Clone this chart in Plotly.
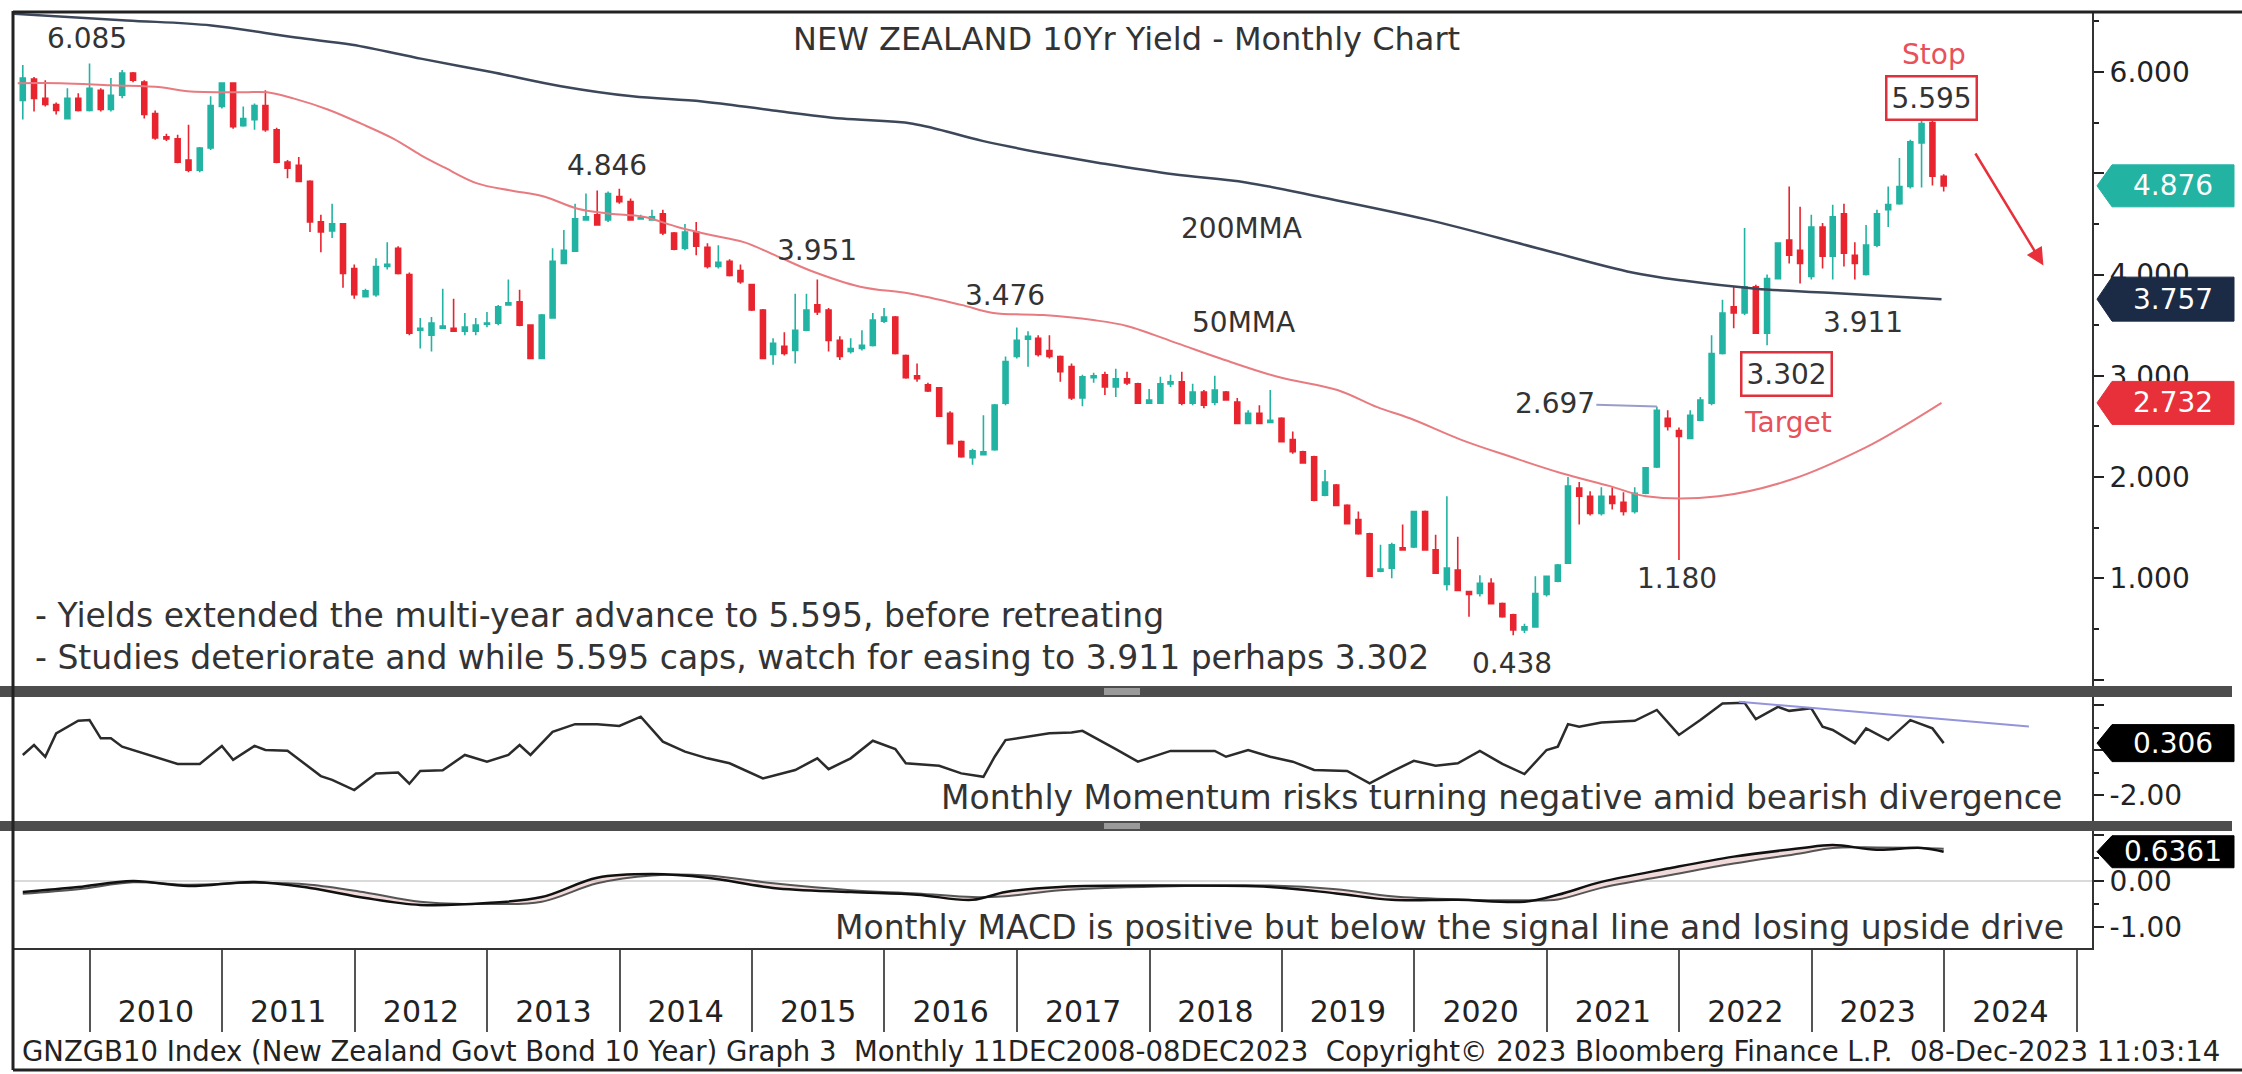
import pandas as pd
import plotly.graph_objects as go

# ---- monthly candles, Jun 2009 .. Dec 2023 ----
opens = [
    5.72, 5.93, 5.74, 5.68, 5.54, 5.74, 5.62,                          # 2009 Jun-Dec
    5.82, 5.63, 5.77, 5.99, 5.90, 5.59, 5.36, 5.34, 5.13, 5.03, 5.25, 5.66,  # 2010
    5.89, 5.47, 5.53, 5.67, 5.43, 5.11, 5.08, 4.92, 4.52, 4.43, 4.50, 4.06,  # 2011
    3.78, 3.80, 4.08, 4.26, 4.00, 3.45, 3.40, 3.47, 3.47, 3.44, 3.44, 3.51,  # 2012
    3.52, 3.70, 3.73, 3.50, 3.17, 3.57, 4.11, 4.23, 4.54, 4.59, 4.54, 4.77,  # 2013
    4.72, 4.55, 4.54, 4.60, 4.41, 4.26, 4.42, 4.27, 4.08, 4.13, 4.04, 3.90,  # 2014
    3.65, 3.21, 3.29, 3.25, 3.45, 3.70, 3.65, 3.35, 3.24, 3.27, 3.30, 3.54,  # 2015
    3.58, 3.20, 3.00, 2.91, 2.88, 2.63, 2.35, 2.19, 2.22, 2.27, 2.73, 3.19,  # 2016
    3.36, 3.37, 3.25, 3.19, 3.09, 2.78, 2.98, 3.01, 2.89, 2.97, 2.92, 2.73,  # 2017
    2.73, 2.92, 2.94, 2.73, 2.84, 2.74, 2.84, 2.74, 2.53, 2.63, 2.54, 2.58,  # 2018
    2.37, 2.25, 2.20, 1.82, 1.92, 1.72, 1.58, 1.44, 1.07, 1.10, 1.30, 1.31,  # 2019
    1.66, 1.28, 0.94, 1.08, 0.87, 0.85, 0.95, 0.75, 0.64, 0.49, 0.52, 0.84,  # 2020
    0.97, 1.15, 1.89, 1.81, 1.64, 1.81, 1.75, 1.66, 1.84, 2.10, 2.58, 2.46,  # 2021
    2.38, 2.56, 2.73, 3.22, 3.68, 3.62, 3.88, 3.42, 3.96, 4.34, 4.24, 3.98,  # 2022
    4.47, 4.18, 4.60, 4.19, 4.00, 4.29, 4.64, 4.70, 4.87, 5.30, 5.50, 4.97,  # 2023
]
highs = [
    6.07, 5.95, 5.92, 5.70, 5.84, 5.79, 6.085,
    5.84, 5.94, 6.02, 6.00, 5.92, 5.62, 5.39, 5.38, 5.48, 5.26, 5.76, 5.90,
    5.90, 5.66, 5.69, 5.82, 5.45, 5.13, 5.16, 4.93, 4.59, 4.70, 4.51, 4.10,
    3.86, 4.16, 4.32, 4.28, 4.02, 3.57, 3.58, 3.86, 3.76, 3.62, 3.57, 3.63,
    3.70, 3.95, 3.85, 3.51, 3.61, 4.26, 4.44, 4.70, 4.80, 4.83, 4.82, 4.846,
    4.75, 4.59, 4.64, 4.64, 4.42, 4.50, 4.52, 4.31, 4.29, 4.15, 4.10, 3.91,
    3.66, 3.37, 3.43, 3.81, 3.81, 3.951, 3.67, 3.39, 3.37, 3.45, 3.62, 3.67,
    3.59, 3.21, 3.12, 2.93, 2.89, 2.65, 2.36, 2.28, 2.61, 2.72, 3.19, 3.476,
    3.44, 3.40, 3.40, 3.20, 3.12, 3.01, 3.03, 3.04, 3.07, 3.04, 2.93, 2.87,
    2.99, 3.01, 3.04, 2.92, 2.86, 3.00, 2.85, 2.78, 2.66, 2.71, 2.86, 2.59,
    2.45, 2.26, 2.21, 2.07, 1.93, 1.73, 1.66, 1.45, 1.33, 1.35, 1.53, 1.66,
    1.67, 1.43, 1.81, 1.41, 0.87, 1.03, 1.00, 0.76, 0.65, 0.55, 1.02, 1.02,
    1.14, 2.00, 1.95, 1.86, 1.90, 1.90, 1.85, 1.90, 2.10, 2.697, 2.66, 2.49,
    2.66, 2.79, 3.40, 3.75, 3.88, 4.46, 3.90, 4.00, 4.32, 4.87, 4.67, 4.59,
    4.51, 4.69, 4.70, 4.32, 4.49, 4.64, 4.87, 5.15, 5.33, 5.595, 5.56, 4.99,
]
lows = [
    5.53, 5.61, 5.66, 5.58, 5.53, 5.61, 5.61,
    5.61, 5.61, 5.74, 5.90, 5.54, 5.33, 5.32, 5.10, 5.01, 5.01, 5.23, 5.64,
    5.44, 5.46, 5.43, 5.41, 5.10, 4.95, 4.92, 4.42, 4.22, 4.36, 3.87, 3.76,
    3.78, 3.78, 4.05, 4.00, 3.40, 3.27, 3.24, 3.47, 3.44, 3.40, 3.40, 3.48,
    3.50, 3.70, 3.49, 3.17, 3.17, 3.57, 4.11, 4.23, 4.54, 4.49, 4.52, 4.70,
    4.54, 4.54, 4.53, 4.39, 4.24, 4.24, 4.19, 4.06, 4.06, 3.98, 3.91, 3.64,
    3.17, 3.11, 3.20, 3.12, 3.44, 3.60, 3.24, 3.155, 3.22, 3.25, 3.29, 3.52,
    3.21, 2.97, 2.94, 2.84, 2.60, 2.33, 2.19, 2.12, 2.22, 2.26, 2.71, 3.17,
    3.09, 3.19, 3.17, 2.94, 2.76, 2.70, 2.93, 2.81, 2.79, 2.91, 2.72, 2.72,
    2.72, 2.89, 2.71, 2.71, 2.68, 2.71, 2.76, 2.53, 2.52, 2.53, 2.53, 2.35,
    2.23, 2.13, 1.76, 1.81, 1.72, 1.54, 1.43, 1.02, 1.06, 1.00, 1.28, 1.30,
    1.28, 1.05, 0.88, 0.88, 0.62, 0.82, 0.74, 0.61, 0.438, 0.46, 0.52, 0.82,
    0.96, 1.15, 1.53, 1.62, 1.62, 1.68, 1.62, 1.64, 1.83, 2.09, 2.46, 1.18,
    2.38, 2.55, 2.71, 3.21, 3.47, 3.60, 3.42, 3.302, 3.95, 4.11, 3.911, 3.95,
    4.06, 3.95, 4.08, 3.95, 3.99, 4.27, 4.47, 4.69, 4.85, 4.86, 4.88, 4.82,
]
closes = [
    5.94, 5.74, 5.68, 5.62, 5.74, 5.62, 5.84,
    5.63, 5.77, 5.99, 5.92, 5.58, 5.35, 5.34, 5.11, 5.03, 5.25, 5.67, 5.89,
    5.46, 5.54, 5.67, 5.43, 5.11, 5.05, 4.92, 4.52, 4.42, 4.50, 4.01, 3.80,
    3.84, 4.08, 4.10, 4.01, 3.42, 3.47, 3.52, 3.49, 3.44, 3.48, 3.50, 3.52,
    3.68, 3.72, 3.50, 3.17, 3.60, 4.13, 4.24, 4.55, 4.57, 4.49, 4.80, 4.72,
    4.54, 4.56, 4.57, 4.41, 4.25, 4.42, 4.28, 4.08, 4.12, 3.99, 3.93, 3.65,
    3.17, 3.32, 3.22, 3.45, 3.65, 3.63, 3.35, 3.19, 3.27, 3.30, 3.55, 3.58,
    3.22, 2.98, 2.97, 2.85, 2.60, 2.33, 2.20, 2.26, 2.25, 2.71, 3.14, 3.35,
    3.39, 3.21, 3.19, 3.04, 2.78, 2.99, 3.00, 2.89, 2.97, 2.93, 2.73, 2.76,
    2.92, 2.94, 2.73, 2.84, 2.71, 2.86, 2.76, 2.53, 2.63, 2.53, 2.56, 2.35,
    2.25, 2.14, 1.77, 1.95, 1.72, 1.54, 1.44, 1.02, 1.09, 1.33, 1.28, 1.66,
    1.28, 1.05, 1.10, 0.88, 0.84, 0.95, 0.75, 0.62, 0.49, 0.52, 0.85, 1.02,
    1.13, 1.91, 1.81, 1.64, 1.81, 1.74, 1.66, 1.84, 2.09, 2.66, 2.50, 2.40,
    2.61, 2.76, 3.22, 3.62, 3.62, 3.88, 3.42, 3.96, 4.31, 4.19, 4.11, 4.47,
    4.18, 4.57, 4.21, 4.11, 4.29, 4.60, 4.69, 4.87, 5.31, 5.49, 4.97, 4.876,
]
candle_dates = pd.date_range("2009-06-30", periods=len(closes), freq="ME")

# ---- moving averages ----
ma200_dates = ["2009-06-06", "2010-04-12", "2010-12-02", "2011-07-23", "2011-12-25",
               "2012-07-05", "2013-01-12", "2013-07-23", "2014-02-05", "2014-08-17",
               "2015-02-28", "2015-09-06", "2016-03-19", "2016-09-27", "2017-04-11",
               "2017-08-19", "2018-03-08", "2018-09-24", "2019-04-11", "2020-02-09",
               "2020-12-06", "2021-08-24", "2022-01-12", "2022-07-31", "2023-02-17",
               "2023-12-25"]
ma200_vals = [6.575, 6.51, 6.46, 6.34, 6.27, 6.13, 6.00, 5.86, 5.76, 5.71,
              5.62, 5.54, 5.49, 5.32, 5.18, 5.10, 4.99, 4.91, 4.77, 4.54,
              4.26, 4.02, 3.94, 3.86, 3.82, 3.757]

ma50_dates = ["2009-06-16", "2009-10-13", "2010-02-27", "2010-07-16", "2010-09-27",
              "2011-02-28", "2011-05-05", "2011-07-16", "2011-10-19", "2012-01-19",
              "2012-04-18", "2012-07-01", "2012-09-03", "2012-12-04", "2013-03-07",
              "2013-06-06", "2013-09-07", "2013-12-06", "2014-03-07", "2014-06-09",
              "2014-09-09", "2014-12-09", "2015-03-12", "2015-06-10", "2015-10-26",
              "2016-03-14", "2016-07-31", "2016-10-27", "2017-03-14", "2017-07-30",
              "2017-11-02", "2018-03-19", "2018-07-16", "2018-12-20", "2019-06-03",
              "2019-09-21", "2019-12-20", "2020-05-08", "2020-09-23", "2021-02-08",
              "2021-06-24", "2021-10-01", "2022-04-19", "2022-11-10", "2023-05-29",
              "2023-09-06", "2023-12-25"]
ma50_vals = [5.89, 5.89, 5.87, 5.85, 5.81, 5.80, 5.80, 5.74, 5.63, 5.49,
             5.34, 5.18, 5.06, 4.90, 4.83, 4.77, 4.65, 4.60, 4.57, 4.47,
             4.39, 4.32, 4.18, 4.04, 3.88, 3.81, 3.70, 3.62, 3.60, 3.55,
             3.49, 3.32, 3.17, 2.99, 2.86, 2.69, 2.58, 2.37, 2.20, 2.04,
             1.91, 1.81, 1.81, 1.98, 2.29, 2.49, 2.732]

# ---- monthly momentum ----
mom_months = ["2009-06", "2009-07", "2009-08", "2009-09", "2009-11", "2009-12", "2010-01",
              "2010-02", "2010-03", "2010-06", "2010-08", "2010-10", "2010-12", "2011-01",
              "2011-03", "2011-04", "2011-06", "2011-09", "2011-10", "2011-12", "2012-02",
              "2012-04", "2012-05", "2012-06", "2012-08", "2012-10", "2012-12", "2013-02",
              "2013-03", "2013-04", "2013-06", "2013-08", "2013-10", "2013-12", "2014-02",
              "2014-04", "2014-06", "2014-08", "2014-10", "2015-01", "2015-04", "2015-06",
              "2015-07", "2015-09", "2015-11", "2016-01", "2016-02", "2016-05", "2016-07",
              "2016-09", "2016-10", "2016-11", "2017-01", "2017-03", "2017-05", "2017-06",
              "2017-09", "2017-11", "2018-02", "2018-04", "2018-06", "2018-07", "2018-09",
              "2018-11", "2019-01", "2019-03", "2019-06", "2019-08", "2019-10", "2019-12",
              "2020-02", "2020-04", "2020-06", "2020-08", "2020-10", "2020-12", "2021-01",
              "2021-02", "2021-03", "2021-05", "2021-08", "2021-10", "2021-12", "2022-02",
              "2022-04", "2022-06", "2022-07", "2022-09", "2022-10", "2022-12", "2023-01",
              "2023-02", "2023-04", "2023-05", "2023-07", "2023-09", "2023-11", "2023-12"]
mom_vals = [-0.22, 0.22, -0.30, 0.74, 1.30, 1.33, 0.52,
            0.52, 0.15, -0.30, -0.62, -0.62, 0.18, -0.44,
            0.18, 0.0, -0.03, -1.16, -1.33, -1.78, -1.04,
            -1.00, -1.50, -0.93, -0.90, -0.22, -0.52, -0.22,
            0.22, -0.22, 0.81, 1.15, 1.15, 1.07, 1.48,
            0.37, -0.07, -0.37, -0.59, -1.26, -0.89, -0.37,
            -0.85, -0.37, 0.41, 0.04, -0.59, -0.70, -1.04,
            -1.19, -0.30, 0.44, 0.59, 0.74, 0.78, 0.85,
            0.04, -0.52, -0.04, -0.04, -0.04, -0.30, 0.0,
            -0.30, -0.52, -0.89, -0.93, -1.48, -0.96, -0.48,
            -0.70, -0.59, -0.04, -0.62, -1.07, 0.0, 0.15,
            1.15, 1.04, 1.22, 1.30, 1.78, 0.67, 1.33,
            2.07, 2.10, 1.37, 1.92, 1.74, 1.85, 1.04,
            0.89, 0.30, 0.96, 0.44, 1.33, 0.96, 0.306]
div_dates = ["2022-06-14", "2024-08-22"]
div_vals = [2.15, 1.05]

# ---- monthly MACD ----
macd_months = ["2009-06", "2009-11", "2010-04", "2010-09", "2011-03", "2011-08", "2012-01",
               "2012-06", "2012-12", "2013-05", "2013-10", "2014-03", "2014-08", "2015-02",
               "2015-09", "2016-03", "2016-08", "2016-11", "2017-04", "2018-01", "2018-11",
               "2019-05", "2019-10", "2020-04", "2020-10", "2021-01", "2021-05", "2021-11",
               "2022-05", "2022-11", "2023-02", "2023-06", "2023-10", "2023-12"]
macd_vals = [-0.24, -0.13, 0.0, -0.11, -0.02, -0.15, -0.37,
             -0.52, -0.48, -0.35, 0.07, 0.15, 0.07, -0.15,
             -0.24, -0.30, -0.41, -0.24, -0.13, -0.10, -0.13,
             -0.27, -0.41, -0.41, -0.45, -0.30, -0.02, 0.27,
             0.53, 0.71, 0.78, 0.68, 0.72, 0.6361]
signal_vals = [-0.28, -0.18, -0.03, -0.08, -0.04, -0.08, -0.25,
               -0.45, -0.50, -0.45, -0.05, 0.12, 0.12, -0.05,
               -0.20, -0.27, -0.35, -0.33, -0.20, -0.12, -0.10,
               -0.18, -0.33, -0.40, -0.42, -0.40, -0.15, 0.12,
               0.38, 0.60, 0.72, 0.73, 0.72, 0.70]

years = list(range(2010, 2025))
price_ticks = [0, 1, 2, 3, 4, 5, 6]
price_tick_text = ["", "1.000", "2.000", "3.000", "4.000", "", "6.000"]  # 0 and 5 sit under bar / tag

FONT = "DejaVu Sans"
TEAL = "#22b3a3"
RED = "#e8242f"
TXT = "#333333"

W, H = 2242, 1074
M_L, M_R, M_T, M_B = 13, 150, 13, 126
PW, PH = W - M_L - M_R, H - M_T - M_B


def py(px_y):
    """pixel row -> paper y"""
    return (H - M_B - px_y) / PH


def px(px_x):
    """pixel column -> paper x"""
    return (px_x - M_L) / PW


main_dom = [py(686), 1.0]
mom_dom = [py(821), py(697)]
macd_dom = [0.0, py(831)]
main_rng = [-0.064, 6.583]
mom_rng = [-3.156, 2.356]
macd_rng = [-1.457, 1.087]
x_rng = ["2009-06-03", "2025-02-12"]

mom_dates = pd.to_datetime(mom_months) + pd.offsets.MonthEnd(0)
macd_dates = pd.to_datetime(macd_months) + pd.offsets.MonthEnd(0)
month_keys = list(candle_dates.strftime("%Y-%m"))

fig = go.Figure()

fig.add_trace(go.Candlestick(
    x=candle_dates, open=opens, high=highs, low=lows, close=closes,
    increasing=dict(line=dict(color=TEAL, width=1.6), fillcolor=TEAL),
    decreasing=dict(line=dict(color=RED, width=1.6), fillcolor=RED),
    whiskerwidth=0, showlegend=False, hoverinfo="skip",
    xaxis="x", yaxis="y",
))
fig.add_trace(go.Scatter(
    x=ma200_dates, y=ma200_vals, mode="lines",
    line=dict(color="#3c4759", width=2.5, shape="spline"),
    showlegend=False, hoverinfo="skip", xaxis="x", yaxis="y",
))
fig.add_trace(go.Scatter(
    x=ma50_dates, y=ma50_vals, mode="lines",
    line=dict(color="#e77b80", width=2, shape="spline"),
    showlegend=False, hoverinfo="skip", xaxis="x", yaxis="y",
))

# momentum panel
fig.add_trace(go.Scatter(
    x=mom_dates, y=mom_vals, mode="lines",
    line=dict(color="#2b2b2b", width=2.5),
    showlegend=False, hoverinfo="skip", xaxis="x2", yaxis="y2",
))
fig.add_trace(go.Scatter(
    x=div_dates, y=div_vals, mode="lines",
    line=dict(color="#9394dc", width=2),
    showlegend=False, hoverinfo="skip", xaxis="x2", yaxis="y2",
))

# MACD panel
fig.add_trace(go.Scatter(
    x=macd_dates, y=signal_vals, mode="lines",
    line=dict(color="#555555", width=2, shape="spline"),
    showlegend=False, hoverinfo="skip", xaxis="x3", yaxis="y3",
))
fig.add_trace(go.Scatter(
    x=macd_dates, y=macd_vals, mode="lines",
    line=dict(color="#111111", width=2.5, shape="spline"),
    fill="tonexty", fillcolor="rgba(215,150,150,0.35)",
    showlegend=False, hoverinfo="skip", xaxis="x3", yaxis="y3",
))

tickfont = dict(family=FONT, size=28, color="#222222")
yaxis_common = dict(
    side="right", showgrid=False, ticks="outside", ticklen=10,
    tickwidth=2, tickcolor="#222222", showline=True, linecolor="#333333",
    linewidth=2, tickfont=tickfont, fixedrange=True,
)
xaxis_common = dict(
    type="date", range=x_rng, showgrid=False, zeroline=False,
    showticklabels=False, ticks="", fixedrange=True,
)

fig.update_layout(
    width=W, height=H,
    margin=dict(l=M_L, r=M_R, t=M_T, b=M_B),
    paper_bgcolor="white", plot_bgcolor="white",
    font=dict(family=FONT, color=TXT),
    showlegend=False,
    xaxis=dict(**xaxis_common, domain=[0, 1], anchor="y", rangeslider=dict(visible=False)),
    xaxis2=dict(**xaxis_common, domain=[0, 1], anchor="y2", matches="x"),
    xaxis3=dict(
        type="date", range=x_rng, matches="x", domain=[0, 1], anchor="y3",
        showgrid=False, zeroline=False, fixedrange=True,
        showline=True, linecolor="#333333", linewidth=2,
        tickvals=[f"{y}-07-02" for y in years], ticktext=[str(y) for y in years],
        ticks="", tickfont=dict(family=FONT, size=30, color="#222222"),
        ticklabelstandoff=36,
        minor=dict(tickvals=[f"{y}-01-01" for y in years + [2025]], ticks="outside",
                   ticklen=82, tickwidth=1.5, tickcolor="#555555", showgrid=False),
    ),
    yaxis=dict(
        **yaxis_common, domain=main_dom, anchor="x", range=main_rng, zeroline=False,
        tickvals=price_ticks, ticktext=price_tick_text,
        minor=dict(tickvals=[v + 0.5 for v in price_ticks], ticks="outside",
                   ticklen=5, tickwidth=1.5, tickcolor="#222222"),
    ),
    yaxis2=dict(
        **yaxis_common, domain=mom_dom, anchor="x2", range=mom_rng, zeroline=False,
        tickvals=[-2, 0, 2], ticktext=["-2.00", "", ""],
        minor=dict(tickvals=[-1, 1], ticks="outside", ticklen=5, tickwidth=1.5,
                   tickcolor="#222222"),
    ),
    yaxis3=dict(
        **yaxis_common, domain=macd_dom, anchor="x3", range=macd_rng,
        zeroline=True, zerolinecolor="#dadada", zerolinewidth=2,
        tickvals=[-1, 0, 1], ticktext=["-1.00", "0.00", ""],
        minor=dict(tickvals=[-0.5, 0.5], ticks="outside", ticklen=5, tickwidth=1.5,
                   tickcolor="#222222"),
    ),
)

# ---- separator bars, frame ----
bar_right = px(2232)
for top, bot in [(686, 697), (821, 831)]:
    fig.add_shape(type="rect", xref="paper", yref="paper", x0=px(0), x1=bar_right,
                  y0=py(bot), y1=py(top), fillcolor="#4d4d4d", line=dict(width=0),
                  layer="above")
    fig.add_shape(type="rect", xref="paper", yref="paper", x0=px(1104), x1=px(1140),
                  y0=py(bot - 2), y1=py(top + 2), fillcolor="#9a9a9a", line=dict(width=0),
                  layer="above")
fig.add_shape(type="line", xref="paper", yref="paper", x0=px(13), x1=px(13),
              y0=py(1070), y1=py(11), line=dict(color="#222222", width=3))
fig.add_shape(type="line", xref="paper", yref="paper", x0=px(13), x1=px(2242),
              y0=py(12), y1=py(12), line=dict(color="#222222", width=3))
fig.add_shape(type="line", xref="paper", yref="paper", x0=px(13), x1=px(2242),
              y0=py(1070), y1=py(1070), line=dict(color="#222222", width=3))


# ---- value tags on the right axis ----
def add_tag(value, yref, dom, rng, color, text, h_px):
    per_unit = (dom[1] - dom[0]) * PH / (rng[1] - rng[0])
    half = h_px / 2 / per_unit
    xt, xl, xr = px(2097), px(2112), px(2234)
    path = (f"M {xt},{value} L {xl},{value + half} L {xr},{value + half} "
            f"L {xr},{value - half} L {xl},{value - half} Z")
    fig.add_shape(type="path", path=path, xref="paper", yref=yref,
                  fillcolor=color, line=dict(color=color, width=1), layer="above")
    fig.add_annotation(x=(xl + xr) / 2, y=value, xref="paper", yref=yref, text=text,
                       xanchor="center", yanchor="middle", showarrow=False,
                       font=dict(family=FONT, size=28, color="white"))


add_tag(closes[-1], "y", main_dom, main_rng, TEAL, f"{closes[-1]:.3f}", 42)
add_tag(ma200_vals[-1], "y", main_dom, main_rng, "#1b2a45", f"{ma200_vals[-1]:.3f}", 44)
add_tag(ma50_vals[-1], "y", main_dom, main_rng, "#e8303a", f"{ma50_vals[-1]:.3f}", 43)
add_tag(mom_vals[-1], "y2", mom_dom, mom_rng, "black", f"{mom_vals[-1]:.3f}", 37)
add_tag(macd_vals[-1], "y3", macd_dom, macd_rng, "black", f"{macd_vals[-1]:.4f}", 32)

# ---- annotations ----
ann_font = dict(family=FONT, size=28, color=TXT)
note_font = dict(family=FONT, size=33, color=TXT)
red_font = dict(family=FONT, size=28, color="#e8505a")


def paper_text(x, y, text, anchor, font):
    fig.add_annotation(x=px(x), y=py(y), xref="paper", yref="paper", text=text,
                       xanchor=anchor, yanchor="middle", showarrow=False, font=font)


paper_text(1126, 39, "NEW ZEALAND 10Yr Yield - Monthly Chart", "center",
           dict(family=FONT, size=32, color=TXT))

labels = [
    ("2009-12-23", 6.336, "6.085"),
    ("2013-11-28", 5.08, "4.846"),
    ("2015-06-28", 4.24, "3.951"),
    ("2016-11-28", 3.79, "3.476"),
    ("2018-09-13", 4.45, "200MMA"),
    ("2018-09-18", 3.53, "50MMA"),
    ("2023-05-22", 3.53, "3.911"),
    ("2021-12-26", 1.00, "1.180"),
    ("2020-09-27", 0.16, "0.438"),
]
for xd, yv, t in labels:
    fig.add_annotation(x=xd, y=yv, xref="x", yref="y", text=t, showarrow=False,
                       font=ann_font)

i_peak = month_keys.index("2021-10")
fig.add_annotation(x=candle_dates[i_peak], y=highs[i_peak], xref="x", yref="y",
                   text="2.697", showarrow=True, arrowhead=0, arrowwidth=2,
                   arrowcolor="#9a9dc9", ax=-102, ay=-3, font=ann_font)

for xd, yv, t in [("2022-10-23", 3.02, "3.302"), ("2023-11-28", 5.74, "5.595")]:
    fig.add_annotation(x=xd, y=yv, xref="x", yref="y", text=t, showarrow=False,
                       font=ann_font, bgcolor="white", bordercolor="#e0303c",
                       borderwidth=2.5, borderpad=4)
fig.add_annotation(x="2022-10-27", y=2.54, xref="x", yref="y", text="Target",
                   showarrow=False, font=red_font)
fig.add_annotation(x="2023-12-05", y=6.17, xref="x", yref="y", text="Stop",
                   showarrow=False, font=red_font)
fig.add_annotation(x="2024-10-01", y=4.09, ax="2024-03-25", ay=5.21, xref="x", yref="y",
                   axref="x", ayref="y", text="", showarrow=True, arrowhead=2,
                   arrowsize=1.4, arrowwidth=2.5, arrowcolor="#e8303a")

paper_text(33, 615, "- Yields extended the multi-year advance to 5.595, before retreating",
           "left", note_font)
paper_text(33, 657, "- Studies deteriorate and while 5.595 caps, watch for easing to 3.911 perhaps 3.302",
           "left", note_font)
paper_text(2064, 797, "Monthly Momentum risks turning negative amid bearish divergence",
           "right", note_font)
paper_text(2066, 927, "Monthly MACD is positive but below the signal line and losing upside drive",
           "right", note_font)
paper_text(20, 1051,
           ("GNZGB10 Index (New Zealand Govt Bond 10 Year) Graph 3  Monthly "
            "11DEC2008-08DEC2023  Copyright\u00a9 2023 Bloomberg Finance L.P.  "
            "08-Dec-2023 11:03:14"),
           "left", dict(family=FONT, size=27.5, color="#222222"))

fig.write_html("out.html", config={"displayModeBar": False},
               post_script="document.body.style.margin='0px';")
